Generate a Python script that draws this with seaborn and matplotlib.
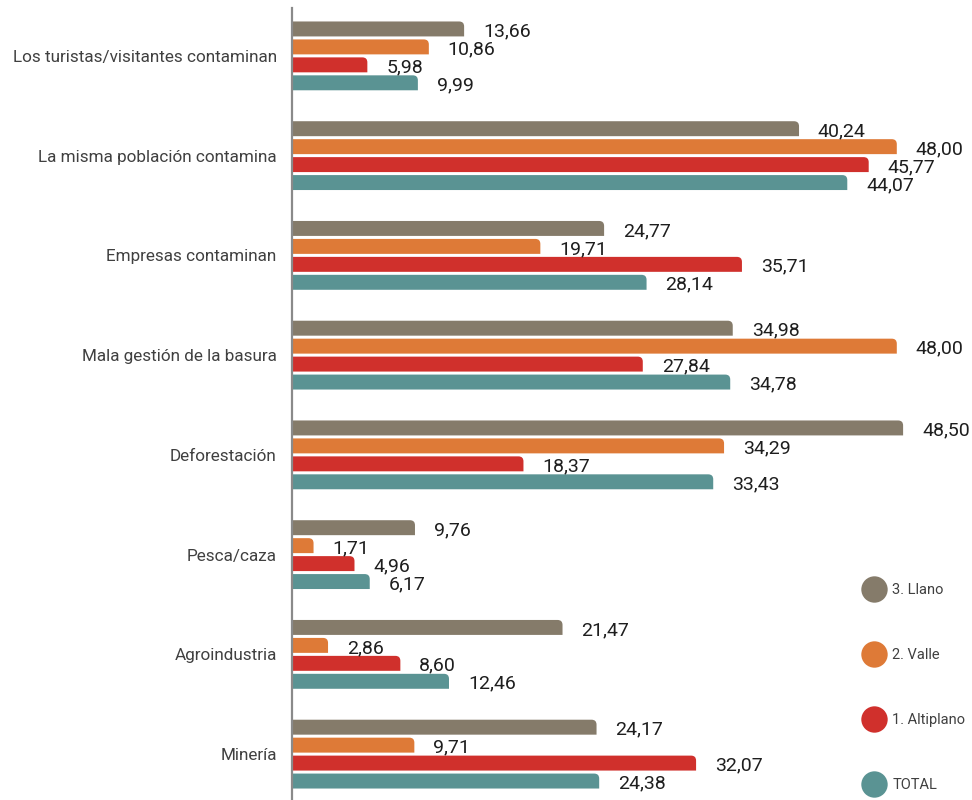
import matplotlib
matplotlib.use("Agg")
import matplotlib.pyplot as plt
import seaborn as sns
import pandas as pd
from matplotlib.path import Path
from matplotlib.patches import PathPatch
from matplotlib.lines import Line2D

categories = ["Los turistas/visitantes contaminan", "La misma población contamina",
              "Empresas contaminan", "Mala gestión de la basura", "Deforestación",
              "Pesca/caza", "Agroindustria", "Minería"]
series_names = ["3. Llano", "2. Valle", "1. Altiplano", "TOTAL"]
llano = [13.66, 40.24, 24.77, 34.98, 48.50, 9.76, 21.47, 24.17]
valle = [10.86, 48.00, 19.71, 48.00, 34.29, 1.71, 2.86, 9.71]
altiplano = [5.98, 45.77, 35.71, 27.84, 18.37, 4.96, 8.60, 32.07]
total = [9.99, 44.07, 28.14, 34.78, 33.43, 6.17, 12.46, 24.38]
colors = ["#857b6a", "#de7a37", "#d0302c", "#5a9393"]

rows = []
for name, vals in zip(series_names, [llano, valle, altiplano, total]):
    for c, v in zip(categories, vals):
        rows.append({"cat": c, "serie": name, "valor": v})
df = pd.DataFrame(rows)

sns.set_theme(style="white")
plt.rcParams["font.family"] = ["Roboto", "DejaVu Sans"]

fig = plt.figure(figsize=(9.72, 8.0), dpi=100)
ax = fig.add_axes([292 / 972, 0.0, (922 - 292) / 972, 792 / 800])

sns.barplot(data=df, y="cat", x="valor", hue="serie", order=categories,
            hue_order=series_names, palette=colors, orient="h",
            width=0.72, gap=0.167, saturation=1, errorbar=None, legend=False, ax=ax)

ax.set_xlim(0, 50)
ax.set_ylim(7.46, -0.48)

# rounded top-right corner
rx = 5 * 50 / 630.0
ry = 5 / 99.7
bars = list(ax.patches)
for p in bars:
    x0, y0 = p.get_x(), p.get_y()
    w, h = p.get_width(), p.get_height()
    fc = p.get_facecolor()
    p.set_visible(False)
    r_x = min(rx, w)
    verts = [(x0, y0 + h), (x0, y0), (x0 + w - r_x, y0),
             (x0 + w, y0), (x0 + w, y0 + ry),
             (x0 + w, y0 + h), (x0, y0 + h)]
    codes = [Path.MOVETO, Path.LINETO, Path.LINETO,
             Path.CURVE3, Path.CURVE3, Path.LINETO, Path.CLOSEPOLY]
    ax.add_patch(PathPatch(Path(verts, codes), facecolor=fc, edgecolor="none"))
    ax.text(x0 + w + 1.5, y0 + h / 2 + 0.025, f"{w:.2f}".replace(".", ","),
            ha="left", va="center", fontsize=14, color="#1e1e1e")

ax.set_xlabel("")
ax.set_ylabel("")
ax.set_xticks([])
ax.tick_params(axis="y", length=0, pad=11, labelsize=12.3, labelcolor="#404040")
for s in ["top", "right", "bottom"]:
    ax.spines[s].set_visible(False)
ax.spines["left"].set_color("#8a8a8a")
ax.spines["left"].set_linewidth(1.6)

handles = [Line2D([0], [0], marker="o", linestyle="none", markersize=19,
                  markerfacecolor=c, markeredgecolor="none") for c in colors]
fig.legend(handles, series_names, loc="upper left", bbox_to_anchor=(858 / 972, 1 - 577 / 800),
           frameon=False, fontsize=10.5, labelspacing=3.5, handletextpad=0.55,
           handlelength=1.4, borderaxespad=0, labelcolor="#404040")

fig.savefig("out.png", dpi=100)
